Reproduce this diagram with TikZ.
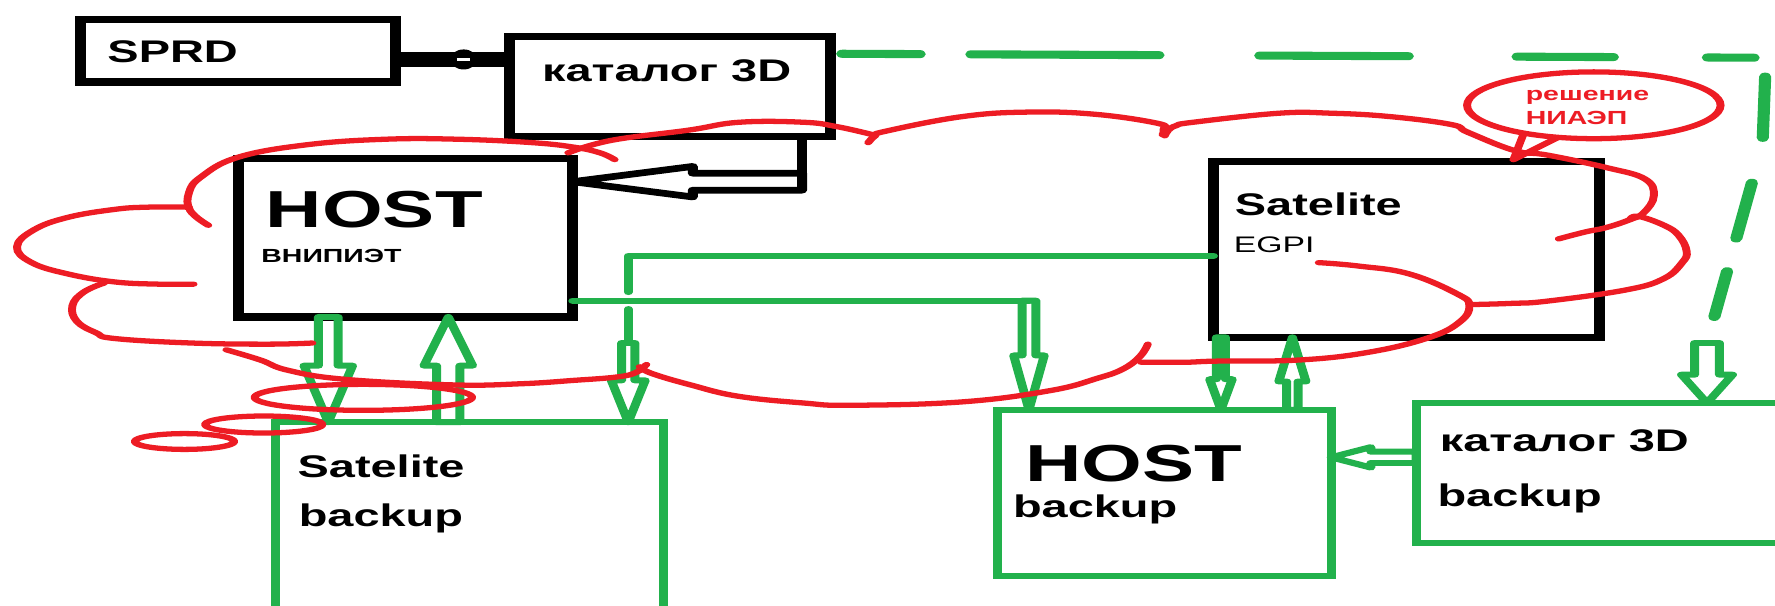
\documentclass[tikz,border=0pt]{standalone}
\usepackage{fontspec}
\setmainfont{Liberation Sans}
\usetikzlibrary{calc, fit, shapes.geometric}

\definecolor{paintgreen}{RGB}{34,177,76}
\definecolor{paintred}{RGB}{237,28,36}

% hollow arrow: style, tail, tip, shaft half width, head half width, head base (from tip)
\newcommand{\hollowarrow}[6][]{%
    \draw[#1] ($(#2)+(#4)$) -- ($(#3)+(#6)+(#4)$) -- ($(#3)+(#6)+(#5)$) -- (#3)
        -- ($(#3)+(#6)-(#5)$) -- ($(#3)+(#6)-(#4)$) -- ($(#2)-(#4)$) -- cycle;}

\tikzset{
    blackbox/.style={draw=black, line width=2.1pt, inner sep=0pt, outer sep=0pt},
    greenbox/.style={draw=paintgreen, line width=1.7pt, inner sep=0pt, outer sep=0pt},
    boxtext/.style={anchor=base west, inner sep=0pt, font=\fontsize{8.9}{10}\selectfont\bfseries},
    bigtext/.style={boxtext, font=\fontsize{14.8}{17}\selectfont\bfseries},
    subtext/.style={boxtext, font=\fontsize{5.4}{6.5}\selectfont\bfseries},
    thintext/.style={boxtext, font=\fontsize{6.4}{7.5}\selectfont},
    notetext/.style={subtext, text=paintred},
    blackline/.style={draw=black, line width=1.9pt, line join=round},
    greenline/.style={draw=paintgreen, line width=1.7pt, line join=round, line cap=round},
    cloudline/.style={draw=paintred, line width=1.5pt, line join=round, line cap=round},
}

\begin{document}
\begin{tikzpicture}[x=0.1132mm, y=-0.1132mm]
    % frame of the sketch
    \useasboundingbox (0,0) rectangle (1568,535);
    \fill[white] (0,0) rectangle (1568,535);
    \clip (0,0) rectangle (1568,535);
    % the sketch is stretched 1.5 times in width
    \begin{scope}[x=0.07547mm, transform canvas={xscale=1.5}]
    % black boxes
    \node[blackbox, fit={(71,17) (349,72.5)}] (sprd) {};
    \node[blackbox, fit={(450,32) (734,120.5)}] (cat) {};
    \node[blackbox, fit={(211,140) (506,280)}] (host) {};
    \node[blackbox, fit={(1072,142.5) (1413,298)}] (sat) {};
    % green backup boxes
    \node[greenbox, fit={(243,373) (586,545)}] (satb) {};
    \node[greenbox, fit={(881,362) (1176,509)}] (hostb) {};
    \node[greenbox, fit={(1251,356) (1590,480)}] (catb) {};

    % box texts
    \node[boxtext] (sprdt) at ($(sprd.north west)+(23,38)$) {SPRD};
    \node[boxtext] (catt) at ($(cat.north west)+(28,40)$) {каталог 3D};
    \node[bigtext] (hostt) at ($(host.north west)+(23,61)$) {HOST};
    \node[subtext] (hostsub) at ($(host.north west)+(19,91.5)$) {ВНИПИЭТ};
    \node[boxtext] (satt) at ($(sat.north west)+(18,47.5)$) {Satelite};
    \node[thintext] (satsub) at ($(sat.north west)+(17,80.5)$) {EGPI};
    \node[boxtext] (satbt) at ($(satb.north west)+(19,49)$) {Satelite};
    \node[boxtext] (satbsub) at ($(satb.north west)+(20,92)$) {backup};
    \node[bigtext] (hostbt) at ($(hostb.north west)+(24,63)$) {HOST};
    \node[boxtext] (hostbsub) at ($(hostb.north west)+(13,95)$) {backup};
    \node[boxtext] (catbt) at ($(catb.north west)+(20,43)$) {каталог 3D};
    \node[boxtext] (catbsub) at ($(catb.north west)+(18,91)$) {backup};

    % SPRD -- каталог 3D
    \coordinate (s1) at ($(sprd.north east)+(0,35.5)$);
    \coordinate (s2) at (s1 -| cat.west);
    \draw[black, line width=4.2pt] (s1) -- (s2);
    \coordinate (sb) at ($(s1)!0.6!(s2)$);
    \fill[black] (sb) ellipse [x radius=0.9mm, y radius=1mm];
    \draw[white, line width=0.9pt] ($(sb)+(-6,0)$) -- ($(sb)+(6,0)$);

    % каталог 3D -> HOST
    \coordinate (k0) at ($(cat.south east)+(-25.5,0)$);
    \coordinate (k1) at ($(k0)+(0,40)$);
    \coordinate (k2) at (k1 -| host.east);
    \draw[blackline] (k0) -- ($(k1)+(0,8.5)$);
    \hollowarrow[blackline]{k1}{k2}{0,7.5}{0,13.5}{106,0}

    % Satelite -> Satelite backup, broken where it crosses
    \coordinate (a0) at ($(sat.north west)+(0,83.5)$);
    \coordinate (a4) at ($(satb.north west)+(312,0)$);
    \coordinate (a1) at (a4 |- a0);
    \coordinate (a2) at ($(a1)+(0,32)$);
    \coordinate (a3) at ($(a1)+(0,77)$);
    \draw[greenline] (a0) -- (a1) -- (a2);
    \draw[greenline] ($(a2)+(0,15)$) -- (a3);
    \hollowarrow[greenline]{a3}{a4}{5.85,0}{15,0}{0,-37}

    % HOST -> HOST backup
    \coordinate (b0) at ($(host.north east)+(0,125.6)$);
    \coordinate (b2) at ($(hostb.north west)+(28,0)$);
    \coordinate (b1) at (b2 |- b0);
    \draw[greenline] (b0) -- (b1);
    \hollowarrow[greenline]{b1}{b2}{6.1,0}{13.5,0}{0,-48}

    % HOST <-> Satelite backup
    \coordinate (e1) at ($(host.south west)+(79,0)$);
    \coordinate (e2) at (e1 |- satb.north);
    \hollowarrow[greenline]{e1}{e2}{8.7,0}{21.5,0}{0,-50}
    \coordinate (f1) at ($(satb.north west)+(153,0)$);
    \coordinate (f2) at (f1 |- host.south);
    \hollowarrow[greenline]{f1}{f2}{10.3,0}{21.5,0}{0,43}

    % Satelite <-> HOST backup
    \coordinate (c1) at ($(sat.south west)+(6.6,0)$);
    \coordinate (c2) at (c1 |- hostb.north);
    \hollowarrow[greenline]{c1}{c2}{4,0}{10,0}{0,-27}
    \coordinate (d1) at ($(hostb.north west)+(260.7,0)$);
    \coordinate (d2) at (d1 |- sat.south);
    \hollowarrow[greenline]{d1}{d2}{5,0}{12,0}{0,39}

    % каталог 3D backup -> HOST backup
    \coordinate (g1) at ($(catb.north west)+(0,48)$);
    \coordinate (g2) at (g1 -| hostb.east);
    \hollowarrow[greenline]{g1}{g2}{0,5}{0,9}{35,0}

    % dashed link каталог 3D -> каталог 3D backup
    \coordinate (h2) at ($(catb.north west)+(257,0)$);
    \coordinate (h1) at ($(h2)+(0,-53)$);
    \coordinate (q0) at ($(cat.north east)+(10,15.5)$);
    \coordinate (q1) at ($(q0)+(816,3.5)$);
    \coordinate (q2) at ($(q1)+(-3,77)$);
    \draw[greenline, line width=2.3pt, dash pattern=on 14.7pt off 9.8pt on 35.5pt off 19.3pt
        on 28pt off 20.8pt on 18.1pt off 18pt on 8.7pt off 7.7pt on 17.4pt off 13pt
        on 16.1pt off 9.5pt on 13.2pt off 8.7pt] (q0) -- (q1) -- (q2) -- (h1);
    \hollowarrow[greenline]{h1}{h2}{11,0}{22.5,0}{0,-25}

    % red cloud
    \draw[cloudline] plot[smooth, tension=0.7] coordinates {(184,199) (168,186) (167,170)
        (178,156) (210,139) (270,128) (340,123) (405,123) (470,126) (507,130) (530,135) (543,141)};
    \draw[cloudline] plot[smooth, tension=0.7] coordinates {(167,183) (130,183) (101,185)
        (60,192) (30,203) (15,218) (28,232) (60,242) (101,249) (140,251) (171,251)};
    \draw[cloudline] plot[smooth, tension=0.7] coordinates {(92,250) (74,258) (64,270)
        (68,284) (85,294) (101,299) (169,303) (237,304) (276,303)};
    \draw[cloudline] plot[smooth, tension=0.7] coordinates {(200,309) (230,318) (254,327)
        (304,335) (400,340) (460,339) (507,336) (545,333) (562,329) (571,322)};
    \draw[cloudline] plot[smooth, tension=0.7] coordinates {(565,324) (576,330) (610,340)
        (652,350) (710,356) (751,358) (850,355) (928,345) (970,334) (992,326) (1007,315) (1014,304)};
    \draw[cloudline] plot[smooth, tension=0.7] coordinates {(1008,320) (1047,320) (1075,319)
        (1148,318) (1210,311) (1263,298) (1290,284) (1298,270) (1288,260) (1245,242) (1200,235) (1165,232)};
    \draw[cloudline] plot[smooth, tension=0.7] coordinates {(1301,269) (1335,268) (1367,266)
        (1437,256) (1470,246) (1486,232) (1490,222) (1483,208) (1470,199) (1447,191) (1440,194)};
    \draw[cloudline] plot[smooth, tension=0.7] coordinates {(1377,211) (1400,205) (1419,201)
        (1440,194) (1452,188) (1461,173) (1453,158) (1419,148) (1367,137) (1338,133) (1297,117)
        (1282,110) (1228,103) (1176,100) (1130,100) (1054,108) (1039,111) (1032,115) (1029,120)};
    \draw[cloudline] plot[smooth, tension=0.7] coordinates {(767,126) (773,120) (782,116)
        (850,103) (909,99) (968,101) (1023,109) (1028,114) (1027,119)};
    \draw[cloudline] plot[smooth, tension=0.7] coordinates {(502,135) (540,124) (608,115)
        (653,108) (710,108) (740,112) (771,119)};

    % speech bubble
    \node[draw=paintred, line width=1.5pt, ellipse, minimum width=16.9mm, minimum height=6.68mm,
        inner sep=0pt, outer sep=0pt] (bubble) at (1408,93) {};
    \node[notetext] (note1) at ($(bubble.center)+(-61,-4)$) {решение};
    \node[notetext] (note2) at ($(bubble.center)+(-61,17)$) {НИАЭП};
    \draw[cloudline] ($(bubble.center)+(-62,25)$) -- ($(bubble.center)+(-71,48)$)
        -- ($(bubble.center)+(-33,29)$);

    % trail of small clouds
    \draw[cloudline] (321,351) ellipse [x radius=7.25mm, y radius=1.3mm];
    \draw[cloudline] (233,375) ellipse [x radius=3.92mm, y radius=0.85mm];
    \draw[cloudline] (163,390) ellipse [x radius=3.32mm, y radius=0.79mm];
    \end{scope}
\end{tikzpicture}
\end{document}
